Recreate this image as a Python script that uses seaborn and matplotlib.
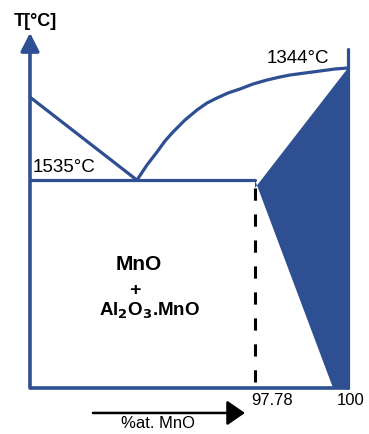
import matplotlib
matplotlib.use("Agg")
import matplotlib.pyplot as plt
import seaborn as sns
import pandas as pd

# Schematic diagram coordinates: x runs 0..100 across the composition axis,
# temperature axis runs 0..100 from the base line to the MnO melting point.
liq_left_x = [0.0, 33.6]
liq_left_t = [90.9, 65.0]

liq_right_x = [33.65, 36.79, 39.94, 42.45, 44.97, 48.74, 52.52, 55.66, 58.81,
               62.26, 66.04, 70.13, 74.53, 78.62, 81.76, 86.48, 91.19, 95.91,
               100.0]
liq_right_t = [65.0, 69.69, 73.75, 77.19, 80.0, 83.75, 86.88, 89.06, 90.63,
               92.19, 93.44, 95.0, 96.25, 97.19, 97.81, 98.44, 99.06, 99.69,
               100.0]

eutectic_x = [0.0, 70.75]
eutectic_t = [65.0, 65.0]

solid_sol_x = [70.75, 70.75, 100.0, 100.0, 95.3]
solid_sol_t = [65.0, 62.5, 100.0, 0.0, 0.0]

limit_x = 70.75          # solubility limit, 97.78 %at. MnO
comp_ticks = [70.75, 100.0]
comp_labels = ["97.78", "100"]

t_labels = ["1535°C", "1344°C"]

BLUE = "#2e4f91"

sns.set_theme(style="white")
plt.rcParams["font.family"] = ["Liberation Sans", "DejaVu Sans"]

fig = plt.figure(figsize=(3.69, 4.34), dpi=100)
ax = fig.add_axes([0, 0, 1, 1])
ax.set_xlim(-9.43, 106.6)
ax.set_ylim(-14.375, 121.25)
ax.axis("off")

left = pd.DataFrame({"x": liq_left_x, "t": liq_left_t})
right = pd.DataFrame({"x": liq_right_x, "t": liq_right_t})
eut = pd.DataFrame({"x": eutectic_x, "t": eutectic_t})
for df in (left, right, eut):
    sns.lineplot(data=df, x="x", y="t", ax=ax, color=BLUE, lw=2.3,
                 sort=False, estimator=None)

# MnO-rich solid solution field
ax.fill(solid_sol_x, solid_sol_t, color=BLUE, lw=0)

# frame lines: base, right side
ax.plot([0, 100], [0, 0], color=BLUE, lw=2.6, solid_capstyle="butt")
ax.plot([100, 100], [0, 106], color=BLUE, lw=2.3)

# temperature axis with arrow
ax.annotate("", xy=(0, 111), xytext=(0, 0),
            arrowprops=dict(arrowstyle="-|>,head_length=0.55,head_width=0.28",
                            mutation_scale=20, color=BLUE, lw=2.6,
                            shrinkA=0, shrinkB=0))

# solubility limit
ax.plot([limit_x, limit_x], [62.5, 0], color="black", lw=2.2,
        linestyle=(0, (4, 4.5)))

# composition arrow
ax.annotate("", xy=(67.6, -7.8), xytext=(19.8, -7.8),
            arrowprops=dict(arrowstyle="-|>,head_length=0.55,head_width=0.38",
                            mutation_scale=20, color="black", lw=1.8,
                            shrinkA=0, shrinkB=0))

ax.text(1.73, 114.4, "T[°C]", fontsize=13, fontweight="bold",
        ha="center", va="center", color="black")
ax.text(0.9, 68.75, t_labels[0], fontsize=13.5, ha="left", va="center",
        color="black")
ax.text(74.5, 103.1, t_labels[1], fontsize=13.5, ha="left", va="center",
        color="black")

ax.text(34.3, 38.6, "MnO", fontsize=15, fontweight="bold", ha="center",
        va="center", color="black")
ax.text(33.0, 30.6, "+", fontsize=14, fontweight="bold", ha="center",
        va="center", color="black")
ax.text(37.5, 24.1, r"Al$_\mathbf{2}$O$_\mathbf{3}$.MnO", fontsize=13.5,
        fontweight="bold", ha="center", va="center", color="black")

for xv, lab, dx in zip(comp_ticks, comp_labels, [5.4, 0.9]):
    ax.text(xv + dx, -4.06, lab, fontsize=12, ha="center", va="center",
            color="black")

ax.text(40.25, -11.0, "%at. MnO", fontsize=12, ha="center", va="center",
        color="black")

fig.savefig("out.png", dpi=100)
